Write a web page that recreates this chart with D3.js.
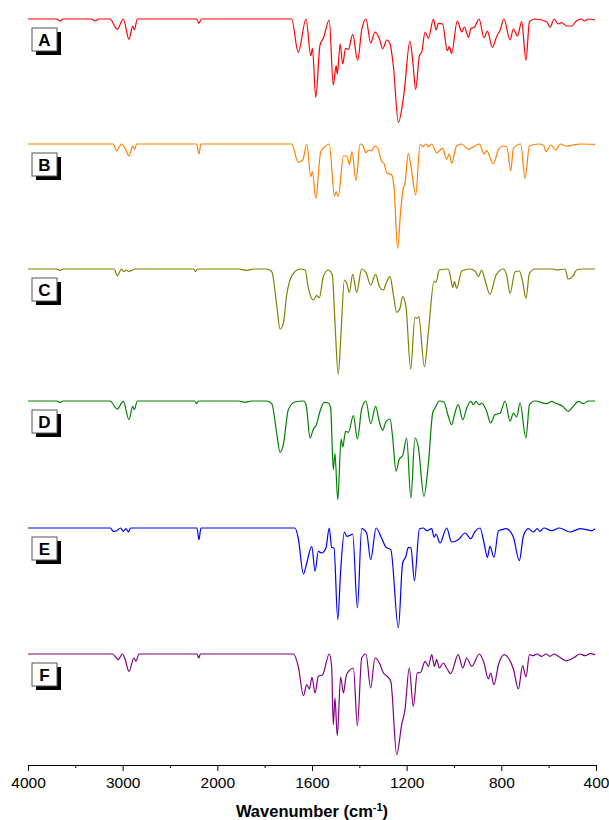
<!DOCTYPE html>
<html>
<head>
<meta charset="utf-8">
<title>FTIR spectra A-F</title>
<script src="https://cdn.jsdelivr.net/npm/d3@7"></script>
<style>
	html, body { margin: 0; padding: 0; background: #fff; }
	#chart { width: 609px; height: 820px; }
	text { font-family: 'Liberation Sans', Arial, sans-serif; }
</style>
</head>
<body>
<div id="chart"></div>
<script>
// spectra: [wavenumber (cm-1), transmittance (a.u., baseline 100)]
var specA = [[4000,100],[3700,100],[3662,98],[3630,100],[3330,100],[3292,98],[3250,100],[3134,100],[3057,89.7],[2993,100],[2933,79.7],[2894,93],[2877,89.3],[2845,100],[2219,100],[2194,95.7],[2169,100],[1686,100],[1658,66.7],[1625,100],[1605,63.3],[1598,70.7],[1584,21.7],[1566,74],[1552,80.7],[1527,99],[1510,34],[1498,53.3],[1493,45],[1481,75],[1470,55],[1458,70.7],[1446,69.7],[1428,84.7],[1407,58.7],[1390,89],[1372,100],[1352,76],[1334,87],[1315,80],[1301,70.3],[1284,79],[1270,75],[1256,52.7],[1235,-3.3],[1211,26],[1186,78],[1174,57.7],[1162,29.7],[1146,63.3],[1136,67.3],[1122,87],[1108,80.7],[1087,100],[1076,89],[1066,95.7],[1048,95],[1028,68.3],[1020,72.3],[1010,65.7],[986,98],[967,87],[956,92],[939,81.7],[928,90.7],[914,91.7],[894,100],[873,81.3],[859,88],[838,71.7],[820,82.3],[805,89],[789,100],[763,79],[749,90],[732,83],[714,97.3],[696,58.7],[681,97.3],[658,100],[608,97.3],[594,91.7],[577,100],[559,95],[545,96.3],[524,93],[503,93],[482,98.3],[460,100],[450,98],[432,100],[404,99]];

var specB = [[4000,100],[3100,100],[3063,93.3],[3011,100],[2975,95.7],[2933,88],[2894,98],[2873,94.7],[2852,100],[2219,100],[2194,90],[2173,100],[1686,100],[1658,81.7],[1639,84],[1622,100],[1605,67.3],[1598,72.3],[1584,45.7],[1563,92.3],[1545,97.3],[1527,100],[1505,48],[1498,52.3],[1489,47.3],[1467,88],[1453,88],[1442,79.7],[1431,92.3],[1414,63.3],[1397,100],[1386,99],[1372,91.3],[1362,94],[1348,93.3],[1334,98],[1322,95.7],[1305,82.3],[1296,80.7],[1284,71.3],[1263,69],[1253,55.7],[1238,-4.3],[1225,34],[1214,55.7],[1207,60.7],[1193,90.7],[1181,76.7],[1162,49],[1143,100],[1132,97.3],[1118,100],[1108,97.3],[1094,100],[1073,91.3],[1048,95.7],[1031,84.7],[1020,90],[1010,80.7],[989,98],[968,100],[939,94.7],[918,97.3],[893,100],[873,90],[862,93.3],[834,80],[812,94.7],[794,98],[777,97.3],[760,73.3],[749,95.7],[718,100],[700,65.7],[681,98],[643,100],[622,99],[611,92.3],[591,99],[569,94],[552,100],[524,98],[496,99],[467,100],[404,99.7]];

var specC = [[4000,100],[3700,100],[3662,98.7],[3630,100],[3090,100],[3057,93.3],[3011,100],[2990,97.3],[2962,99],[2934,97.7],[2894,99],[2870,100],[2250,100],[2229,97.3],[2210,100],[1910,100],[1876,98.7],[1845,100],[1791,100],[1770,97.3],[1749,64],[1735,40],[1721,45.7],[1707,74],[1693,89],[1672,97.3],[1651,100],[1629,99],[1615,80.7],[1594,69],[1580,73.3],[1569,71.3],[1552,92.3],[1531,99],[1514,94],[1503,47.3],[1489,-5.3],[1477,37.3],[1463,89],[1453,85.7],[1442,76.7],[1428,94.7],[1411,76.7],[1390,100],[1372,96.7],[1352,84],[1331,94.7],[1315,82.3],[1298,79],[1287,85.7],[1270,92.3],[1256,74],[1242,56.7],[1228,60.7],[1217,72.3],[1203,62.3],[1183,0],[1165,51.3],[1155,50.7],[1149,52.3],[1125,2.3],[1108,37.3],[1084,88],[1076,86.7],[1062,99],[1024,100],[1014,90.7],[1005,81.3],[998,87.3],[989,80.7],[967,98],[932,100],[911,98],[897,92.3],[883,99],[869,89],[848,74.7],[822,94],[791,100],[777,93.3],[763,75.7],[742,97.3],[724,98],[710,87.3],[696,70.7],[681,95.7],[658,100],[580,100],[566,99],[531,100],[517,90],[496,93.3],[482,99],[460,100],[404,100]];

var specD = [[4000,100],[3700,100],[3662,98.7],[3630,100],[3134,100],[3057,92],[2993,99.7],[2933,81.3],[2894,94.7],[2877,91.3],[2845,100],[2240,100],[2219,97.3],[2200,100],[1910,100],[1883,98.7],[1855,100],[1791,100],[1770,97.3],[1749,68],[1735,48.7],[1721,56.3],[1700,91.3],[1672,99],[1636,100],[1625,96.3],[1608,63],[1594,72],[1583,75.3],[1566,89.7],[1549,98.7],[1531,98],[1521,93],[1510,31.3],[1503,47.3],[1491,1.3],[1477,62],[1470,54],[1458,69.7],[1446,68.7],[1425,85.3],[1408,62],[1390,92],[1372,100],[1352,77.3],[1331,94.7],[1315,78.7],[1301,70.7],[1287,79.7],[1270,82],[1259,63],[1245,29.7],[1231,42],[1217,45.3],[1200,63],[1182,3],[1165,63],[1151,54.7],[1127,4.7],[1108,38],[1090,88],[1080,93],[1062,100],[1042,98.7],[1024,84.7],[1010,76.3],[998,86.3],[982,96.3],[963,81.3],[946,93],[929,99.7],[918,96.3],[907,99.7],[893,96.3],[883,98],[862,89.7],[845,78],[827,86.3],[805,88],[784,100],[763,79.7],[749,88],[735,84],[721,98],[696,63],[681,96.3],[658,100],[608,97.3],[587,99.7],[573,98],[541,94.7],[517,89.7],[496,94.7],[474,99.7],[453,97.3],[432,100],[404,100]];

var specE = [[4000,100],[3130,100],[3099,96.7],[3063,97.3],[3022,100],[2993,96.7],[2965,99.3],[2940,96],[2915,100],[2215,100],[2194,88.3],[2173,100],[1672,100],[1658,90],[1636,54],[1622,65],[1601,81.7],[1587,56.7],[1573,76.7],[1559,75],[1541,80],[1527,100],[1517,80.7],[1507,80],[1491,8.3],[1479,56.7],[1463,96],[1453,91.7],[1439,92.7],[1428,94],[1408,20],[1390,99.3],[1369,95],[1352,68.3],[1329,100],[1306,90],[1287,80.7],[1267,78.3],[1235,0],[1217,65],[1203,71.7],[1193,80.7],[1182,80],[1167,47.3],[1146,99.3],[1129,100],[1115,97.3],[1094,99.3],[1084,90.7],[1076,94],[1059,85],[1031,100],[1010,86],[982,88.3],[953,95],[929,89.3],[911,96.7],[890,100],[873,85],[859,70.7],[848,81.7],[831,70.7],[812,97.3],[798,98.3],[780,99.3],[749,90.7],[724,67.3],[707,91.7],[686,99.3],[665,96],[648,99.3],[637,96.7],[620,100],[587,97.3],[555,100],[510,96],[467,99.3],[439,98.3],[418,97.3],[404,99.3]];

var specF = [[4000,100],[3106,100],[3065,96],[3045,94.3],[3004,100],[2975,95],[2934,82.7],[2880,96],[2860,92.7],[2827,100],[2215,100],[2196,96],[2178,100],[1679,100],[1658,87.7],[1636,58.3],[1622,69.3],[1611,65],[1600,76.7],[1587,61],[1573,77.7],[1555,79.3],[1527,100],[1517,87.7],[1510,29.3],[1503,56],[1493,18.3],[1479,77],[1467,61],[1456,77.7],[1442,83.7],[1425,86],[1408,28.3],[1390,96],[1372,100],[1352,66],[1334,96],[1315,91],[1298,81],[1282,77.7],[1267,72.7],[1242,-0.7],[1221,29.3],[1207,44.3],[1189,86],[1172,47.7],[1155,81],[1141,81.7],[1122,92.7],[1108,87.7],[1094,99.3],[1083,87.7],[1073,94.3],[1062,86],[1045,91],[1031,86],[1014,80.3],[982,99.3],[963,86],[946,96],[925,87.7],[893,100],[873,91],[855,75],[845,81],[831,69.3],[812,89.3],[788,99.3],[770,96],[749,85],[728,65],[710,88.3],[696,77],[681,99.3],[665,98.3],[650,100],[629,97.7],[611,100],[594,97.7],[577,100],[555,97],[527,93.3],[496,96],[467,100],[446,98.3],[425,100.3],[404,99.3]];

var labels = ['A', 'B', 'C', 'D', 'E', 'F'];
var offsets = [646, 521, 396, 264, 137, 11];   // vertical stacking offset of each trace
var majorTicks = [4000, 3000, 2000, 1600, 1200, 800, 400];
var minorTicks = [3500, 2500, 1800, 1400, 1000, 600];

(function() {
	'use strict';

	var WIDTH = 609;
	var HEIGHT = 820;
	var COLORS = ['#ff0000', '#ff8000', '#808000', '#008000', '#0000ff', '#800080'];
	var AXIS_Y = 765;

	var spectra = [specA, specB, specC, specD, specE, specF];

	var svg = d3.select('#chart')
		.append('svg')
		.attr('width', WIDTH)
		.attr('height', HEIGHT);

	// broken x axis: 4000-2000 is compressed
	var x = d3.scaleLinear()
		.domain([4000, 2000, 400])
		.range([28, 217.3, 596]);

	var y = d3.scaleLinear()
		.domain([0, 760])
		.range([AXIS_Y, 5]);

	var line = d3.line()
		.x(function(d) { return x(d[0]); })
		.y(function(d) { return y(d[1]); })
		.curve(d3.curveMonotoneX);

	spectra.forEach(function(spec, i) {
		var off = offsets[i];
		svg.append('path')
			.datum(spec.map(function(p) { return [p[0], p[1] + off]; }))
			.attr('fill', 'none')
			.attr('stroke', COLORS[i])
			.attr('stroke-width', 1.2)
			.attr('stroke-linejoin', 'round')
			.attr('d', line);

		// label box with drop shadow
		var bx = 32;
		var by = y(off + 100) + 9;
		var g = svg.append('g').attr('transform', 'translate(' + bx + ',' + by + ')');
		g.append('rect')
			.attr('x', 4).attr('y', 4)
			.attr('width', 25).attr('height', 23)
			.attr('fill', '#000');
		g.append('rect')
			.attr('x', 0).attr('y', 0)
			.attr('width', 25).attr('height', 23)
			.attr('fill', '#fff')
			.attr('stroke', '#555')
			.attr('stroke-width', 1);
		g.append('text')
			.attr('x', 12.5).attr('y', 17.5)
			.attr('text-anchor', 'middle')
			.attr('font-size', '17px')
			.attr('font-weight', 'bold')
			.attr('fill', '#000')
			.text(labels[i]);
	});

	var axisG = svg.append('g')
		.attr('transform', 'translate(0,' + AXIS_Y + ')');

	axisG.call(d3.axisBottom(x)
			.tickValues(majorTicks)
			.tickFormat(d3.format('d'))
			.tickSize(6)
			.tickSizeOuter(0));

	axisG.append('g')
		.call(d3.axisBottom(x)
			.tickValues(minorTicks)
			.tickFormat('')
			.tickSize(3)
			.tickSizeOuter(0))
		.select('.domain').remove();

	axisG.selectAll('.domain, .tick line')
		.attr('stroke', '#000')
		.attr('stroke-width', 1);

	axisG.selectAll('.tick text')
		.attr('font-family', "'Liberation Sans', Arial, sans-serif")
		.attr('font-size', '15.5px')
		.attr('fill', '#000')
		.attr('dy', '0.9em');

	var title = svg.append('text')
		.attr('x', (x(4000) + x(400)) / 2)
		.attr('y', 817)
		.attr('text-anchor', 'middle')
		.attr('font-size', '16.5px')
		.attr('font-weight', 'bold')
		.attr('fill', '#000');
	title.append('tspan').text('Wavenumber (cm');
	title.append('tspan').attr('dy', '-6').attr('font-size', '11px').text('-1');
	title.append('tspan').attr('dy', '6').text(')');
}());
</script>
</body>
</html>
